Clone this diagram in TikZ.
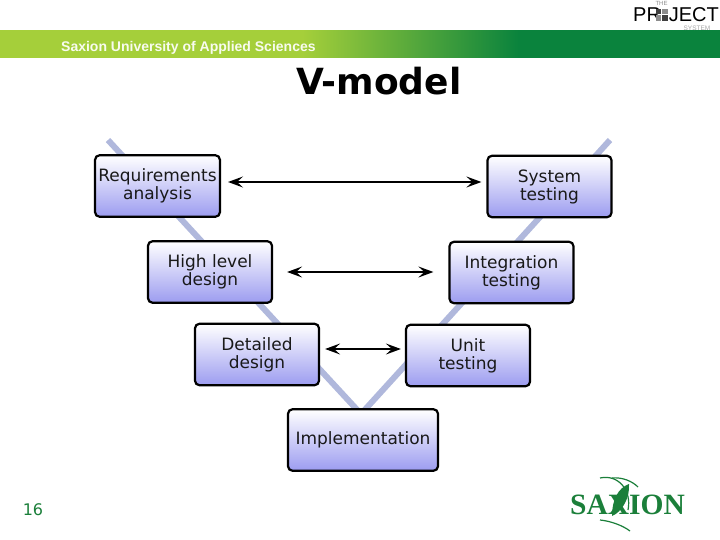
\documentclass[tikz,border=0pt]{standalone}
\usepackage{fontspec}
\setmainfont{DejaVu Sans}
\newfontfamily\headfont{Liberation Sans}
\newfontfamily\logofont{Liberation Serif}
\usetikzlibrary{arrows.meta}
\definecolor{saxgreen}{HTML}{1B7F3A}
\definecolor{bandlight}{HTML}{A5CF3A}
\definecolor{banddark}{HTML}{0A833D}
\definecolor{vline}{HTML}{B0B8DC}
\definecolor{boxfill}{HTML}{9C9CF0}
\pgfdeclarehorizontalshading{bandshade}{100bp}{
	color(0bp)=(bandlight);
	color(46bp)=(bandlight);
	color(61bp)=(banddark);
	color(100bp)=(banddark)
}
\tikzset{
	phase/.style={
		draw=black,
		line width=2.2pt,
		rounded corners=4.5pt,
		top color=white,
		bottom color=boxfill,
		minimum width=124pt,
		minimum height=61.5pt,
		align=center,
		font=\fontsize{17}{18}\selectfont,
		text=black!90,
	},
	link/.style={
		line width=1.5pt,
		{Stealth[length=15pt,width=11pt,inset=6pt]}-{Stealth[length=15pt,width=11pt,inset=6pt]},
	},
	vleg/.style={
		draw=vline,
		line width=6pt,
	},
}
\begin{document}
\begin{tikzpicture}[x=1pt,y=-1pt]
		\useasboundingbox (0,0) rectangle (720,540);

		% header band
		\shade[shading=bandshade] (0,30.5) rectangle (720,58);
		\node[anchor=west,text=white!92!bandlight,inner sep=0pt] (school) at (61,48) {\headfont\bfseries\fontsize{14}{15}\selectfont Saxion University of Applied Sciences};
		\node[inner sep=0pt] (title) at (379,81) {\bfseries\fontsize{36}{38}\selectfont V-model};

		% project logo
		\node[anchor=west,inner sep=0pt] (pr) at (633,14.5) {\headfont\fontsize{20}{20}\selectfont PR};
		\node[anchor=east,inner sep=0pt] (ject) at (719,14.5) {\headfont\fontsize{20}{20}\selectfont JECT};
		\fill[black!75] (656,9) rectangle (661,14);
		\fill[black!45] (662,9) rectangle (668,14);
		\fill[black!45] (656,15) rectangle (661,21);
		\fill[black!75] (662,15) rectangle (668,21);
		\node[text=black!45,inner sep=0pt] (the) at (661.5,3.5) {\headfont\fontsize{6}{6}\selectfont THE};
		\node[text=black!35,inner sep=0pt] (sys) at (697,27.8) {\headfont\fontsize{6.5}{6.5}\selectfont SYSTEM};

		% the V behind the boxes
		\coordinate (vleft) at (108,140);
		\coordinate (vbottom) at (361,414);
		\coordinate (vright) at (610,140);
		\draw[vleg] (vleft) -- (vbottom) -- (vright);

		\node[phase] (H1) at (157.5,186) {Requirements\\analysis};
		\node[phase] (H2) at (210,272) {High level\\design};
		\node[phase] (H3) at (257,354.5) {Detailed\\design};
		\node[phase,minimum width=150pt] (H4) at (363,440) {Implementation};
		\node[phase] (S1) at (549.5,186.5) {System\\testing};
		\node[phase] (S2) at (511.5,272.5) {Integration\\testing};
		\node[phase] (S3) at (468,355.5) {Unit\\testing};

		\draw[link,shorten <=7pt,shorten >=5pt] ([yshift=4pt]H1.east) -- ([yshift=4.5pt]S1.west);
		\draw[link,shorten <=14pt,shorten >=15pt] (H2.east) -- ([yshift=.5pt]S2.west);
		\draw[link,shorten <=5pt,shorten >=4pt] ([yshift=5.5pt]H3.east) -- ([yshift=6.5pt]S3.west);

		% page number and saxion logo
		\node[text=saxgreen,inner sep=0pt] (page) at (33,510) {\fontsize{16}{16}\selectfont 16};
		\draw[saxgreen,line width=1.2pt] (600,478) .. controls (618,474) and (632,490) .. (628,510);
		\draw[saxgreen,line width=1.2pt] (612,478) .. controls (622,477) and (632,481) .. (638,487);
		\draw[saxgreen,line width=1.2pt] (600,520) .. controls (610,521) and (622,525) .. (630,531);
		\fill[saxgreen] (629,484) .. controls (618,488) and (612,500) .. (612,516) .. controls (622,512) and (630,498) .. (629,484);
		\node[text=saxgreen,inner sep=0pt] (sax) at (627.5,505) {\logofont\bfseries\fontsize{29.5}{30}\selectfont SAXION};
\end{tikzpicture}
\end{document}
